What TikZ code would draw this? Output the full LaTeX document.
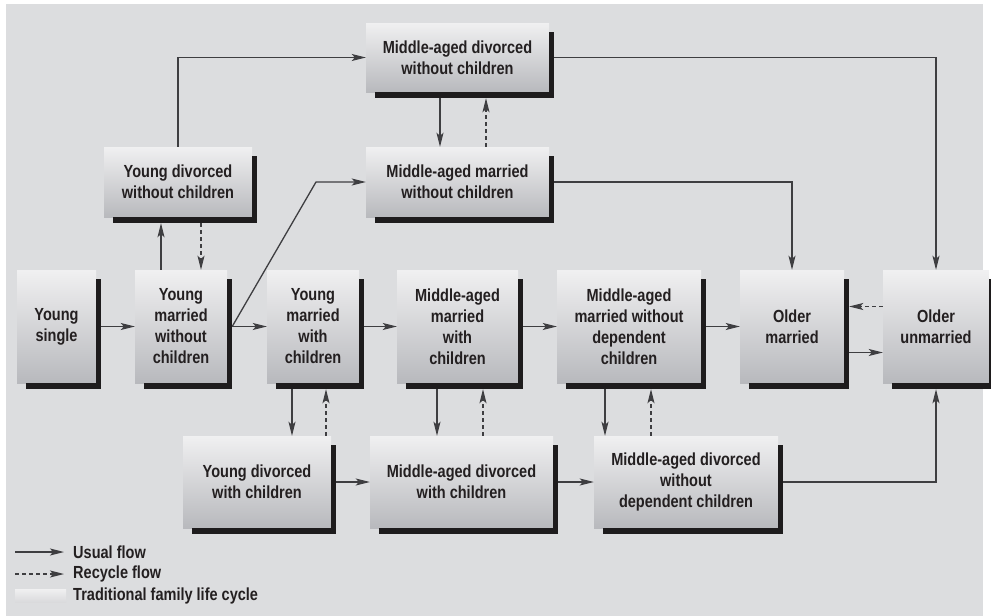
\documentclass[tikz,border=0pt]{standalone}
\usepackage{fontspec}
\setmainfont{Liberation Sans}[FakeStretch=0.83]
\usetikzlibrary{calc}
\usetikzlibrary{arrows.meta}
\definecolor{bgcol}{RGB}{220,221,223}
\definecolor{boxtop}{RGB}{240,240,241}
\definecolor{boxbot}{RGB}{184,185,189}
\definecolor{shadowcol}{RGB}{30,28,29}
\definecolor{txtcol}{RGB}{35,31,32}
\definecolor{linecol}{RGB}{62,62,65}
\providecommand*{\pgfmathsetnewmacro}[2]{%
    \newcommand*{#1}{}% Error if already defined
    \pgfmathsetmacro{#1}{#2}%
}

\begin{document}
\begin{tikzpicture}[%
        x = 1pt,
        y = -1pt,
        stage/.style = {rectangle, inner sep = 0pt, align = center,
            top color = boxtop, bottom color = boxbot, text = txtcol,
            font = \fontsize{17.5}{21}\selectfont\bfseries},
        flow/.style = {draw = linecol, line width = 1.3pt,
            -{Stealth[length = 14pt, width = 7pt, inset = 3pt]}},
        recycle/.style = {flow, dash pattern = on 4pt off 3pt},
        legend/.style = {anchor = west, inner sep = 0pt, text = txtcol,
            font = \fontsize{17.5}{21}\selectfont\bfseries},
        ]

\useasboundingbox (0,0) rectangle (991,616);
\fill[bgcol] (6,4) rectangle (983,616);

\pgfmathsetnewmacro{\rowa}{57.5}
\pgfmathsetnewmacro{\rowb}{182}
\pgfmathsetnewmacro{\rowc}{326.5}
\pgfmathsetnewmacro{\rowd}{482}

% upper branch
\node (madnc) [stage, minimum width = 183pt, minimum height = 69pt] at (457.5,\rowa)
    {Middle-aged divorced\\without children};
\node (ydnc) [stage, minimum width = 148pt, minimum height = 70pt] at (178,\rowb)
    {Young divorced\\without children};
\node (mamnc) [stage, minimum width = 183pt, minimum height = 70pt] at (457.5,\rowb)
    {Middle-aged married\\without children};

% traditional row
\node (ys) [stage, minimum width = 79pt, minimum height = 113pt] at (56.5,\rowc)
    {Young\\single};
\node (ymnc) [stage, minimum width = 92pt, minimum height = 113pt] at (181,\rowc)
    {Young\\married\\without\\children};
\node (ymc) [stage, minimum width = 92pt, minimum height = 113pt] at (313,\rowc)
    {Young\\married\\with\\children};
\node (mamc) [stage, minimum width = 121pt, minimum height = 113pt] at (457.5,\rowc)
    {Middle-aged\\married\\with\\children};
\node (mamndc) [stage, minimum width = 144pt, minimum height = 113pt] at (629,\rowc)
    {Middle-aged\\married without\\dependent\\children};
\node (om) [stage, minimum width = 104pt, minimum height = 113pt] at (792,\rowc)
    {Older\\married};
\node (ou) [stage, minimum width = 106pt, minimum height = 113pt] at (936,\rowc)
    {Older\\unmarried};

% lower branch
\node (ydc) [stage, minimum width = 148pt, minimum height = 92pt] at (257,\rowd)
    {Young divorced\\with children};
\node (madc) [stage, minimum width = 183pt, minimum height = 92pt] at (461.5,\rowd)
    {Middle-aged divorced\\with children};
\node (madndc) [stage, minimum width = 184pt, minimum height = 92pt] at (686,\rowd)
    {Middle-aged divorced\\without\\dependent children};

\foreach \BOX in {madnc,ydnc,mamnc,ys,ymnc,ymc,mamc,mamndc,om,ou,ydc,madc,madndc}{%
    \coordinate (\BOX-sh) at ($(\BOX.south east)+(5,6)$);
    \fill[shadowcol] ($(\BOX.north east)+(0,9)$) rectangle (\BOX-sh);
    \fill[shadowcol] ($(\BOX.south west)+(9,0)$) rectangle (\BOX-sh);
    }

\foreach \FROM/\TO in {ys/ymnc,ymnc/ymc,ymc/mamc,mamc/mamndc,mamndc/om,ydc/madc,madc/madndc}{%
    \draw[flow] ([xshift=5pt]\FROM.east) -- (\TO.west);
    }

\foreach \UP/\LOW/\SOL/\REC in {ymc/ydc/-21/13,mamc/madc/-20.5/25.5,mamndc/madndc/-24/22,madnc/mamnc/-17.5/28.5}{%
    \draw[flow] ([xshift=\SOL pt]\UP.south |- \UP-sh) -- ([xshift=\SOL pt]\UP.south |- \LOW.north);
    \draw[recycle] ([xshift=\REC pt]\UP.south |- \LOW.north) -- ([xshift=\REC pt]\UP.south |- \UP-sh);
    }

\draw[flow] ([xshift=-20pt]ymnc.north) -- ([xshift=-20pt]ymnc.north |- ydnc-sh);
\draw[recycle] ([xshift=20pt]ymnc.north |- ydnc-sh) -- ([xshift=20pt]ymnc.north);

\draw[flow] (ydnc.north) |- (madnc.west);
\draw[flow] ([xshift=5pt]ymnc.east) -- (mamnc.west -| 316,0) -- (mamnc.west);
\draw[flow] ([xshift=5pt]madnc.east) -| (ou.north);
\draw[flow] ([xshift=5pt]mamnc.east) -| (om.north);
\draw[flow] ([xshift=5pt]madndc.east) -| (ou.south |- ou-sh);

\draw[recycle] ([yshift=20pt]ou.west) -- ([yshift=20pt]om.east -| om-sh);
\draw[flow] ([yshift=-26pt]om.east -| om-sh) -- ([yshift=-26pt]ou.west);

% legend
\coordinate (usuala) at (15,552);
\coordinate (usualb) at (64,552);
\coordinate (recyca) at (15,574);
\coordinate (recycb) at (64,574);
\draw[flow] (usuala) -- (usualb);
\draw[recycle] (recyca) -- (recycb);
\shade[top color = boxtop, bottom color = boxtop!60!boxbot] (15,589) rectangle (66,602);
\node (lusual) [legend] at (73,552) {Usual flow};
\node (lrecyc) [legend] at (73,574) {Recycle flow};
\node (ltrad) [legend] at (73,596) {Traditional family life cycle};

\end{tikzpicture}
\end{document}
